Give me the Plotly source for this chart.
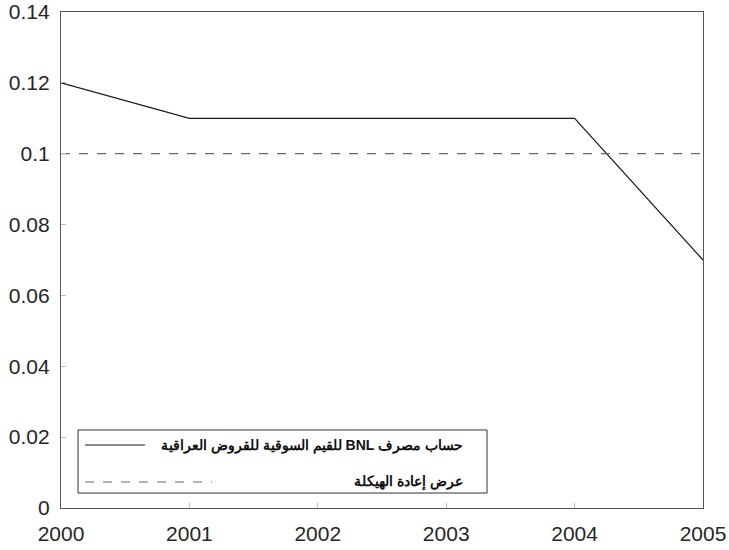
import plotly.graph_objects as go

years = [2000, 2001, 2002, 2003, 2004, 2005]
bnl_values = [0.12, 0.11, 0.11, 0.11, 0.11, 0.07]
offer_values = [0.10, 0.10, 0.10, 0.10, 0.10, 0.10]
series_names = ["حساب مصرف BNL للقيم السوقية للقروض العراقية", "عرض إعادة الهيكلة"]
y_ticks = [0, 0.02, 0.04, 0.06, 0.08, 0.1, 0.12, 0.14]
y_ticklabels = ["0", "0.02", "0.04", "0.06", "0.08", "0.1", "0.12", "0.14"]

line_colors = ["#1a1a1a", "#6a6a6a"]
line_dashes = ["solid", "dash"]

fig = go.Figure()
fig.add_trace(go.Scatter(x=years, y=bnl_values, mode="lines", name=series_names[0],
                         line=dict(color=line_colors[0], width=1.2, dash=line_dashes[0])))
fig.add_trace(go.Scatter(x=years, y=offer_values, mode="lines", name=series_names[1],
                         line=dict(color=line_colors[1], width=1.2, dash=line_dashes[1])))

axis_common = dict(showgrid=False, zeroline=False, showline=True, mirror=True,
                   linecolor="#555555", linewidth=1.2, ticks="inside", ticklen=5,
                   tickcolor="#bbbbbb", automargin=False,
                   tickfont=dict(family="Liberation Sans, Arial", size=21, color="#262626"))

# custom legend box (MATLAB-style: sample line on the left, right-aligned RTL text)
legend_box = dict(x0=0.0265, x1=0.6636, y0=0.0302, y1=0.1573)
legend_rows_y = [0.127, 0.0524]
legend_line_x = [(0.0374, 0.1308), (0.0374, 0.2352)]
legend_text_right = 0.6300

shapes = [dict(type="rect", xref="paper", yref="paper", fillcolor="white",
               line=dict(color="#333333", width=1), layer="above", **legend_box)]
annotations = []
for i, name in enumerate(series_names):
    shapes.append(dict(type="line", xref="paper", yref="paper",
                       x0=legend_line_x[i][0], x1=legend_line_x[i][1],
                       y0=legend_rows_y[i], y1=legend_rows_y[i], layer="above",
                       line=dict(color=line_colors[i], width=1.2, dash=line_dashes[i])))
    annotations.append(dict(xref="paper", yref="paper", x=legend_text_right, y=legend_rows_y[i],
                            xanchor="right", yanchor="middle", showarrow=False,
                            text="\u202b" + name + "\u202c",
                            font=dict(family="Liberation Sans, Arial", size=14, color="#111111",
                                      weight="bold")))

fig.update_layout(
    width=729, height=550,
    margin=dict(l=61, r=26, t=12, b=42),
    plot_bgcolor="white", paper_bgcolor="white",
    showlegend=False,
    shapes=shapes, annotations=annotations,
    xaxis=dict(range=[2000, 2005], tickvals=years, ticktext=[str(y) for y in years],
               ticklabelstandoff=7, **axis_common),
    yaxis=dict(range=[0, 0.14], tickvals=y_ticks, ticktext=y_ticklabels,
               ticklabelstandoff=6, **axis_common),
)

fig.write_html("out.html", config={"displayModeBar": False},
               post_script="document.body.style.margin='0';document.body.style.overflow='hidden';")
